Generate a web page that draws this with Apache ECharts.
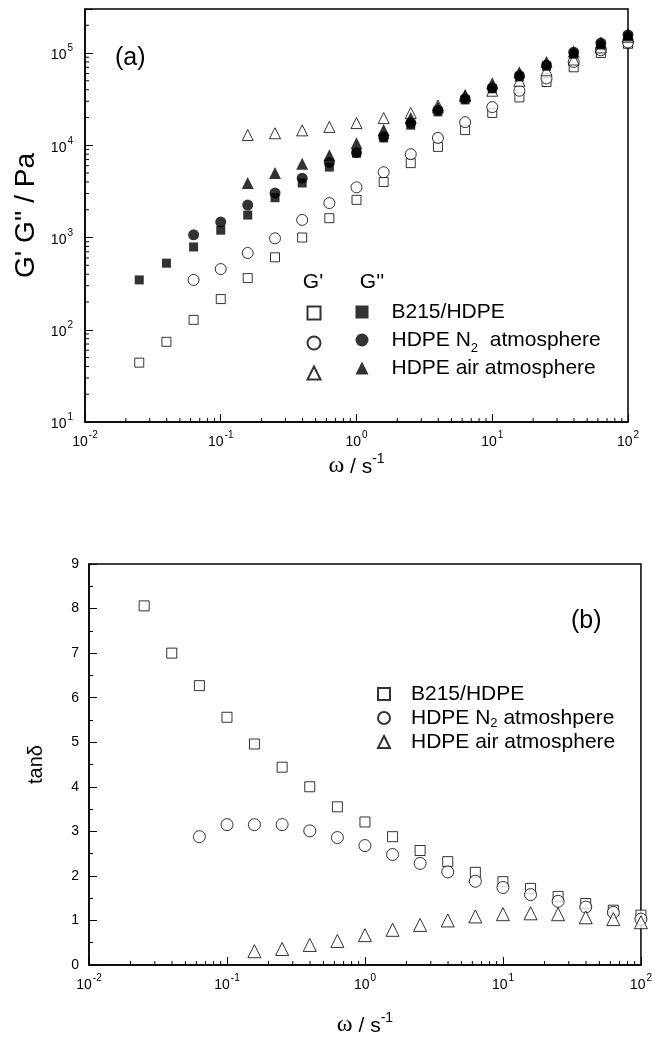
<!DOCTYPE html>
<html><head><meta charset="utf-8">
<script src="https://cdn.jsdelivr.net/npm/echarts@6/dist/echarts.min.js"></script>
<style>html,body{margin:0;padding:0;background:#fff}#c{width:655px;height:1038px}</style>
</head><body><div id="c"></div>
<script>
// ---- data (a): G' and G'' vs omega ----
const freqAll = [0.0251,0.0398,0.0631,0.1,0.158,0.251,0.398,0.631,1,1.585,2.51,3.98,6.31,10,15.85,25.1,39.8,63.1,100];
const freqN2  = [0.0631,0.1,0.158,0.251,0.398,0.631,1,1.585,2.51,3.98,6.31,10,15.85,25.1,39.8,63.1,100];
const freqAir = [0.158,0.251,0.398,0.631,1,1.585,2.51,3.98,6.31,10,15.85,25.1,39.8,63.1,100];

const b215G1  = [44,74,128,215,363,610,1000,1620,2560,4000,6400,9600,14600,22400,33000,48500,70000,100000,126000];
const b215G2  = [347,527,790,1200,1750,2700,3900,5800,8200,12000,16500,23000,31000,41000,55000,72000,97000,122000,150000];
const n2G1    = [347,455,680,980,1550,2360,3500,5100,8000,12000,17800,25900,39000,53000,80000,107000,130000];
const n2G2    = [1070,1470,2250,3030,4400,6500,8300,12400,17400,24000,32000,42000,57000,74000,102000,128000,157000];
const airG1   = [12900,13500,14500,15800,17400,19700,22400,27000,34000,39000,50000,65000,85000,115000,150000];
const airG2   = [3900,5000,6300,7800,10500,14600,19700,25900,35000,47000,62000,80000,104000,130000,160000];

// ---- data (b): tan delta vs omega ----
const b215Tan = [8.06,7.0,6.27,5.56,4.96,4.44,4.0,3.55,3.21,2.88,2.57,2.32,2.08,1.87,1.72,1.54,1.38,1.23,1.12];
const n2Tan   = [2.88,3.15,3.15,3.15,3.01,2.86,2.68,2.48,2.28,2.09,1.88,1.74,1.58,1.43,1.3,1.18,1.03];
const airTan  = [0.31,0.36,0.45,0.54,0.67,0.79,0.9,1.0,1.09,1.14,1.16,1.14,1.07,1.03,0.96];

// legend labels
const legendTopNames = {"B215/HDPE": 'B215/HDPE', "HDPE N2": 'HDPE N{sub|2}  atmosphere', "HDPE air": 'HDPE air atmosphere'};
const legendBotNames = {"B215/HDPE tan": 'B215/HDPE', "HDPE N2 tan": 'HDPE N{sub|2} atmoshpere', "HDPE air tan": 'HDPE air atmosphere'};

const FONT = 'Liberation Sans, Arial, sans-serif';
const pair = (xs, ys) => xs.map((x, i) => [x, ys[i]]);

function expLabel(v) {
  const e = Math.log10(v);
  if (Math.abs(e - Math.round(e)) > 1e-6) return '';
  return '{b|10}{s|' + Math.round(e) + '}';
}
const supRich = {
  b: {fontSize: 14, fontFamily: FONT, color: '#000', lineHeight: 19, verticalAlign: 'bottom'},
  s: {fontSize: 10, fontFamily: FONT, color: '#000', lineHeight: 12, verticalAlign: 'top', padding: [0,0,0,1]}
};

// minor tick positions for log axes
function logMinors(lo, hi) {
  const out = [];
  for (let k = lo; k < hi; k++) for (let m = 2; m <= 9; m++) out.push(m * Math.pow(10, k));
  return out;
}
const xMinor = logMinors(-2, 2);
const yMinor = logMinors(1, 6).filter(v => v < 300000);

function tickSeries(gi, vals, axis, fixed, len) {
  return {
    type: 'custom', xAxisIndex: gi, yAxisIndex: gi, silent: true, clip: false, z: 10,
    data: vals.map(v => axis === 'x' ? [v, fixed] : [fixed, v]),
    renderItem: (params, api) => {
      const p = api.coord([api.value(0), api.value(1)]);
      const shape = axis === 'x'
        ? {x1: p[0], y1: p[1], x2: p[0], y2: p[1] - len}
        : {x1: p[0], y1: p[1], x2: p[0] + len, y2: p[1]};
      return {type: 'line', shape, style: {stroke: '#000', lineWidth: 1}};
    }
  };
}

const openStyle = {color: '#fff', borderColor: '#000', borderWidth: 1};
const fillStyle = {color: '#000', borderColor: '#000', borderWidth: 0};

function scatter(name, gi, data, symbol, size, style, z) {
  return {name, type: 'scatter', xAxisIndex: gi, yAxisIndex: gi, data, symbol, symbolSize: size,
          itemStyle: style, z, emphasis: {disabled: true}, animation: false};
}

const axisLineStyle = {lineStyle: {color: '#000', width: 1.5}};
const xName = '{w|ω}{t| / s}{s|-1}';
const nameRich = {
  w: {fontFamily: 'Liberation Serif, serif', fontSize: 24, color: '#000', lineHeight: 26, verticalAlign: 'bottom'},
  t: {fontFamily: FONT, fontSize: 21, color: '#000', lineHeight: 26, verticalAlign: 'bottom'},
  s: {fontFamily: FONT, fontSize: 14, color: '#000', lineHeight: 14, verticalAlign: 'top'}
};
const subRich = {sub: {fontFamily: FONT, fontSize: 13, color: '#000', verticalAlign: 'bottom', lineHeight: 13}};

const chart = echarts.init(document.getElementById('c'), null, {renderer: 'canvas'});
chart.setOption({
  animation: false,
  backgroundColor: '#fff',
  grid: [
    {left: 85, top: 9, width: 543, height: 413, show: true, borderColor: '#000', borderWidth: 1.5, backgroundColor: 'transparent'},
    {left: 89, top: 564, width: 553, height: 403, show: true, borderColor: '#000', borderWidth: 1.5, backgroundColor: 'transparent'}
  ],
  xAxis: [
    {gridIndex: 0, type: 'log', logBase: 10, min: 0.01, max: 100, splitLine: {show: false},
     axisLine: axisLineStyle, axisTick: {inside: true, length: 8, lineStyle: {color: '#000'}},
     axisLabel: {formatter: expLabel, rich: supRich, margin: 8},
     name: xName, nameLocation: 'middle', nameGap: 30, nameTextStyle: {rich: nameRich}},
    {gridIndex: 1, type: 'log', logBase: 10, min: 0.01, max: 100, splitLine: {show: false},
     axisLine: axisLineStyle, axisTick: {inside: true, length: 8, lineStyle: {color: '#000'}},
     axisLabel: {formatter: expLabel, rich: supRich, margin: 8},
     name: xName, nameLocation: 'middle', nameGap: 46, nameTextStyle: {rich: nameRich}}
  ],
  yAxis: [
    {gridIndex: 0, type: 'log', logBase: 10, min: 10, max: 300000, splitLine: {show: false},
     axisLine: axisLineStyle, axisTick: {inside: true, length: 8, lineStyle: {color: '#000'}},
     axisLabel: {formatter: expLabel, rich: supRich, margin: 12},
     name: "G' G'' / Pa", nameLocation: 'middle', nameGap: 36,
     nameTextStyle: {fontFamily: FONT, fontSize: 28, color: '#000'}},
    {gridIndex: 1, type: 'value', min: 0, max: 9, interval: 1, splitLine: {show: false},
     axisLine: axisLineStyle, axisTick: {inside: true, length: 8, lineStyle: {color: '#000'}},
     minorTick: {show: true, splitNumber: 2, length: 4, lineStyle: {color: '#000'}},
     axisLabel: {fontFamily: FONT, fontSize: 14, color: '#000', margin: 10},
     name: 'tanδ', nameLocation: 'middle', nameGap: 43,
     nameTextStyle: {fontFamily: FONT, fontSize: 20, color: '#000'}}
  ],
  legend: [
    {data: ["B215/HDPE G'", "HDPE N2 G'", "HDPE air G'"], orient: 'vertical', left: 306.5, top: 305.5, padding: 0,
     itemWidth: 13, itemHeight: 13, itemGap: 15, formatter: () => '', selectedMode: false,
     textStyle: {fontSize: 1}},
    {data: ["B215/HDPE", "HDPE N2", "HDPE air"], orient: 'vertical', left: 355.5, top: 297, padding: 0,
     itemWidth: 13, itemHeight: 13, itemGap: -2, selectedMode: false,
     formatter: n => legendTopNames[n],
     textStyle: {fontFamily: FONT, fontSize: 21, color: '#000', lineHeight: 30, padding: [0,0,0,18], rich: subRich}},
    {data: ["B215/HDPE tan", "HDPE N2 tan", "HDPE air tan"], orient: 'vertical', left: 377, top: 682, padding: 0,
     itemWidth: 12, itemHeight: 12, itemGap: 0, selectedMode: false,
     formatter: n => legendBotNames[n],
     textStyle: {fontFamily: FONT, fontSize: 21, color: '#000', lineHeight: 24, padding: [0,0,0,16], rich: subRich}}
  ],
  graphic: [
    {type: 'text', left: 115, top: 46, style: {text: '(a)', font: '25px ' + FONT, fill: '#000'}},
    {type: 'text', left: 571, top: 609, style: {text: '(b)', font: '25px ' + FONT, fill: '#000'}},
    {type: 'text', x: 313, y: 282, style: {text: "G'", font: '21px ' + FONT, fill: '#000', align: 'center', verticalAlign: 'middle'}},
    {type: 'text', x: 372, y: 282, style: {text: "G''", font: '21px ' + FONT, fill: '#000', align: 'center', verticalAlign: 'middle'}}
  ],
  series: [
    tickSeries(0, xMinor, 'x', 10, 4),
    tickSeries(0, yMinor, 'y', 0.01, 4),
    tickSeries(1, xMinor, 'x', 0, 4),
    scatter("B215/HDPE G'", 0, pair(freqAll, b215G1), 'rect', 9, openStyle, 2),
    scatter("HDPE N2 G'", 0, pair(freqN2, n2G1), 'circle', 11, openStyle, 3),
    scatter("HDPE air G'", 0, pair(freqAir, airG1), 'triangle', 11, openStyle, 4),
    scatter("B215/HDPE", 0, pair(freqAll, b215G2), 'rect', 9, fillStyle, 5),
    scatter("HDPE N2", 0, pair(freqN2, n2G2), 'circle', 11, fillStyle, 6),
    scatter("HDPE air", 0, pair(freqAir, airG2), 'triangle', 12, fillStyle, 7),
    scatter("B215/HDPE tan", 1, pair(freqAll, b215Tan), 'rect', 10, openStyle, 2),
    scatter("HDPE N2 tan", 1, pair(freqN2, n2Tan), 'circle', 12, openStyle, 3),
    scatter("HDPE air tan", 1, pair(freqAir, airTan), 'triangle', 13, openStyle, 4)
  ]
});
</script>
</body></html>
